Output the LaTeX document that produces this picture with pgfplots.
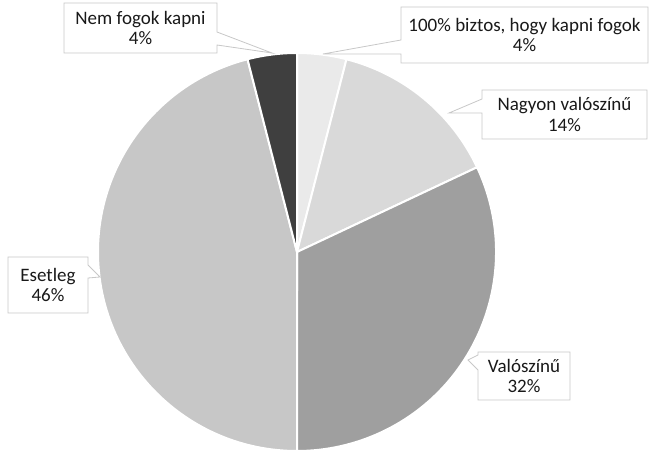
\documentclass[border=0pt]{standalone}
\usepackage{pgfplots}
\usepackage{pgfplotstable}
\pgfplotsset{compat=1.18}
\usepackage{fontspec}
\setmainfont{Carlito}
\definecolor{pie0}{HTML}{EAEAEA}
\definecolor{pie1}{HTML}{D9D9D9}
\definecolor{pie2}{HTML}{9F9F9F}
\definecolor{pie3}{HTML}{C7C7C7}
\definecolor{pie4}{HTML}{3F3F3F}
\definecolor{callborder}{HTML}{C8C8C8}
\pgfplotstableread{
value
4
14
32
46
4
}\piedata
\def\cx{297}
\def\cy{-252}
\def\rr{199}
\begin{document}
\begin{tikzpicture}
\xdef\cum{90}
\pgfplotstableforeachcolumnelement{value}\of\piedata\as\v{%
  \pgfmathsetmacro\aend{\cum-3.6*\v}%
  \pgfmathsetmacro\sx{\cx+\rr*cos(\cum)}%
  \pgfmathsetmacro\sy{\cy+\rr*sin(\cum)}%
  \expandafter\xdef\csname pieS\pgfplotstablerow\endcsname{\cum}%
  \expandafter\xdef\csname pieE\pgfplotstablerow\endcsname{\aend}%
  \expandafter\xdef\csname pieX\pgfplotstablerow\endcsname{\sx}%
  \expandafter\xdef\csname pieY\pgfplotstablerow\endcsname{\sy}%
  \xdef\cum{\aend}%
}
\begin{axis}[
  scale only axis, width=650bp, height=452bp,
  xmin=0, xmax=650, ymin=-452, ymax=0,
  hide axis, clip=false,
]
\pgfplotsinvokeforeach{0,...,4}{
  \fill[pie#1, draw=white, line width=2bp, line join=round]
    (axis cs:\cx,\cy) -- (axis cs:\csname pieX#1\endcsname,\csname pieY#1\endcsname)
    arc[start angle=\csname pieS#1\endcsname, end angle=\csname pieE#1\endcsname, radius=199bp] -- cycle;
}
\tikzset{callout/.style={draw=callborder, fill=white, line width=0.8bp, line join=miter},
  lab/.style={align=center, font=\fontsize{19bp}{20.7bp}\selectfont, text=black!90, inner sep=0pt}}
% callouts
\draw[callout] (axis cs:64,-3) -- (axis cs:217,-3) -- (axis cs:217,-32) -- (axis cs:272,-53) -- (axis cs:217,-45) -- (axis cs:217,-53) -- (axis cs:64,-53) -- cycle;
\draw[callout] (axis cs:401,-7) -- (axis cs:648,-7) -- (axis cs:648,-63) -- (axis cs:401,-63) -- (axis cs:401,-54) -- (axis cs:323,-54) -- (axis cs:401,-40) -- cycle;
\draw[callout] (axis cs:482,-90) -- (axis cs:647,-90) -- (axis cs:647,-139) -- (axis cs:482,-139) -- (axis cs:482,-113) -- (axis cs:449,-113) -- (axis cs:482,-99) -- cycle;
\draw[callout] (axis cs:8,-257) -- (axis cs:88,-257) -- (axis cs:88,-265) -- (axis cs:100,-277) -- (axis cs:88,-278) -- (axis cs:88,-313) -- (axis cs:8,-313) -- cycle;
\draw[callout] (axis cs:478,-352) -- (axis cs:570,-352) -- (axis cs:570,-400) -- (axis cs:478,-400) -- (axis cs:478,-370) -- (axis cs:468,-360) -- (axis cs:478,-355) -- cycle;
% labels
\node[lab] at (axis cs:140.5,-28) {Nem fogok kapni\\4\%};
\node[lab] at (axis cs:524.5,-35) {100\% biztos, hogy kapni fogok\\4\%};
\node[lab] at (axis cs:564.5,-114.5) {Nagyon valószínű\\14\%};
\node[lab] at (axis cs:48,-285) {Esetleg\\46\%};
\node[lab] at (axis cs:524,-376) {Valószínű\\32\%};
\end{axis}
\pgfresetboundingbox
\path (0,0) rectangle (650bp,452bp);
\end{tikzpicture}
\end{document}
